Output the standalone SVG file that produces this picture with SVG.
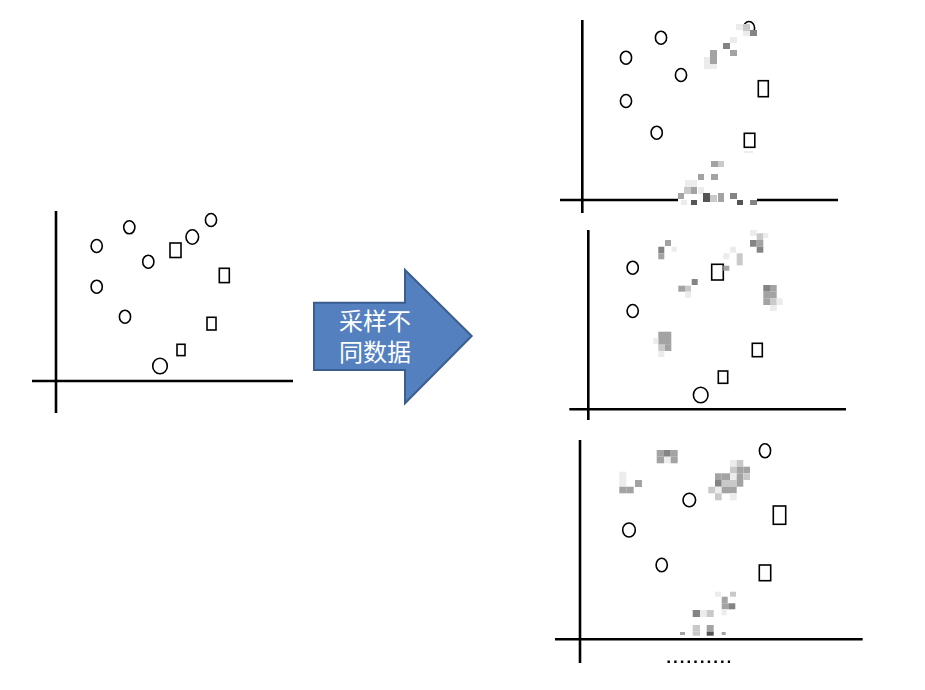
<svg xmlns="http://www.w3.org/2000/svg" width="925" height="690" viewBox="0 0 925 690">
<style>
.ax{stroke:#000;stroke-width:2.6;fill:none}
.c{fill:none;stroke:#000;stroke-width:1.6}
.s{fill:none;stroke:#000;stroke-width:1.6}
.m1{fill:#ececec}.m2{fill:#c9c9c9}.m3{fill:#a3a3a3}.m4{fill:#848484}.m5{fill:#555}
.lbl{font-family:"Liberation Sans","Noto Sans CJK SC",sans-serif;font-size:24px;fill:#fff;text-anchor:middle}
</style>
<rect width="925" height="690" fill="#fff"/>

<g id="plot-original">
<line class="ax" x1="56" y1="211" x2="56" y2="413"/>
<line class="ax" x1="32" y1="381" x2="293" y2="381"/>
<ellipse class="c" cx="129.3" cy="227.3" rx="5.6" ry="6.5"/>
<ellipse class="c" cx="96.7" cy="246" rx="5.6" ry="6.5"/>
<ellipse class="c" cx="148.3" cy="261.7" rx="5.6" ry="6.5"/>
<ellipse class="c" cx="96.7" cy="286.7" rx="5.6" ry="6.5"/>
<ellipse class="c" cx="125" cy="316.7" rx="5.6" ry="6.5"/>
<ellipse class="c" cx="192.3" cy="237" rx="6.3" ry="7.2"/>
<ellipse class="c" cx="211" cy="220" rx="5.6" ry="6.5"/>
<ellipse class="c" cx="160" cy="366" rx="7.3" ry="7.8"/>
<rect class="s" x="170" y="243" width="11" height="14.5"/>
<rect class="s" x="219.3" y="268.3" width="10" height="14.3"/>
<rect class="s" x="207" y="317.3" width="9" height="12.7"/>
<rect class="s" x="177" y="344.3" width="8" height="11.3"/>
</g>

<g id="arrow">
<path d="M314,302.7 H405 V270 L471.7,336 L405,403.3 V370 H314 Z" fill="#5480c0" stroke="#3a5f8f" stroke-width="2"/>
<text class="lbl" x="375" y="330">采样不</text>
<text class="lbl" x="375" y="361">同数据</text>
</g>

<g id="plot-sample-1">
<line class="ax" x1="582.3" y1="20" x2="582.3" y2="213"/>
<line class="ax" x1="560" y1="200" x2="678" y2="200"/>
<line class="ax" x1="757" y1="200" x2="838" y2="200"/>
<ellipse class="c" cx="661" cy="37.7" rx="5.6" ry="6.5"/>
<ellipse class="c" cx="626" cy="57.7" rx="5.6" ry="6.5"/>
<ellipse class="c" cx="681" cy="75" rx="5.6" ry="6.5"/>
<ellipse class="c" cx="626" cy="101" rx="5.6" ry="6.5"/>
<ellipse class="c" cx="656.7" cy="132.7" rx="5.6" ry="6.5"/>
<ellipse class="c" cx="749" cy="28" rx="5.6" ry="6.5"/>
<rect class="s" x="758.3" y="80.7" width="10" height="16"/>
<rect class="s" x="744.3" y="133.3" width="10.5" height="14"/>
<g id="mosaic-1">
<rect class="m1" x="736" y="24" width="7" height="6"/><rect class="m2" x="743" y="24" width="7" height="7"/>
<rect class="m1" x="743" y="31" width="7" height="5"/><rect class="m4" x="750" y="30" width="7" height="6"/>
<rect class="m1" x="730" y="37" width="7" height="6"/><rect class="m4" x="723" y="43" width="7" height="6"/>
<rect class="m3" x="730" y="50" width="7" height="6"/>
<rect class="m3" x="710" y="50" width="7" height="7"/><rect class="m1" x="704" y="57" width="6" height="7"/>
<rect class="m3" x="710" y="57" width="7" height="7"/><rect class="m1" x="704" y="64" width="13" height="5"/>
<rect class="m1" x="744" y="151" width="9" height="2"/>
<rect class="m3" x="711" y="161" width="7" height="6"/><rect class="m2" x="718" y="161" width="6" height="6"/>
<rect class="m3" x="698" y="174" width="6" height="6"/><rect class="m3" x="711" y="174" width="7" height="6"/>
<rect class="m1" x="685" y="180" width="7" height="7"/><rect class="m1" x="691" y="180" width="6" height="7"/>
<rect class="m2" x="684" y="187" width="7" height="7"/><rect class="m3" x="691" y="187" width="6" height="7"/>
<rect class="m1" x="698" y="187" width="6" height="7"/>
<rect class="m3" x="678" y="193" width="6" height="6"/><rect class="m5" x="703" y="193" width="7" height="9"/>
<rect class="m2" x="710" y="195" width="7" height="7"/><rect class="m3" x="718" y="193" width="6" height="9"/>
<rect class="m4" x="730" y="193" width="7" height="6"/><rect class="m5" x="737" y="200" width="6" height="5"/>
<rect class="m4" x="750" y="200" width="7" height="5"/><rect class="m5" x="691" y="200" width="6" height="5"/>
<rect class="m1" x="681" y="200" width="6" height="5"/>
</g>
</g>

<g id="plot-sample-2">
<line class="ax" x1="588.3" y1="230" x2="588.3" y2="420"/>
<line class="ax" x1="569.3" y1="409.3" x2="846" y2="409.3"/>
<ellipse class="c" cx="632.7" cy="267.7" rx="5.6" ry="6.5"/>
<ellipse class="c" cx="632.7" cy="311" rx="5.6" ry="6.5"/>
<ellipse class="c" cx="700.7" cy="395" rx="7.3" ry="7.8"/>
<rect class="s" x="711.7" y="264.3" width="11.6" height="15.7"/>
<rect class="s" x="752.3" y="343.3" width="10" height="13.4"/>
<rect class="s" x="718.3" y="371" width="9.4" height="12.3"/>
<g id="mosaic-2">
<rect class="m3" x="665" y="240" width="6" height="6"/><rect class="m4" x="658.3" y="246.7" width="6" height="6.6"/>
<rect class="m3" x="658.3" y="253.3" width="6" height="6"/><rect class="m1" x="671.7" y="246.7" width="5" height="5"/>
<rect class="m4" x="691.7" y="279" width="6" height="6"/><rect class="m3" x="678.3" y="285.7" width="6.7" height="6"/>
<rect class="m2" x="685" y="285.7" width="6" height="6"/><rect class="m1" x="685" y="291.7" width="6" height="6"/>
<rect class="m1" x="723.3" y="253.3" width="6" height="6"/><rect class="m1" x="730" y="246.7" width="6" height="6"/>
<rect class="m2" x="736.7" y="253.3" width="6" height="12"/><rect class="m3" x="723.3" y="265.7" width="6" height="5"/>
<rect class="m1" x="750" y="230" width="6.7" height="6"/><rect class="m2" x="756.7" y="233.3" width="6.6" height="6.7"/>
<rect class="m4" x="750" y="240" width="6.7" height="6.7"/><rect class="m3" x="756.7" y="240" width="6.6" height="6.7"/>
<rect class="m4" x="756.7" y="246.7" width="6.6" height="6"/><rect class="m1" x="763.3" y="233" width="5" height="5"/>
<rect class="m4" x="763.3" y="285" width="6.7" height="6.7"/><rect class="m3" x="770" y="285" width="6.7" height="6.7"/>
<rect class="m3" x="763.3" y="291.7" width="6.7" height="6.6"/><rect class="m3" x="770" y="291.7" width="6.7" height="6.6"/>
<rect class="m3" x="763.3" y="298.3" width="6.7" height="6.7"/><rect class="m2" x="770" y="298.3" width="6.7" height="6.7"/>
<rect class="m1" x="776.7" y="298.3" width="6" height="6.7"/><rect class="m1" x="770" y="305" width="6.7" height="6"/>
<rect class="m3" x="658.3" y="331.7" width="13" height="13"/>
<rect class="m2" x="658.3" y="344.3" width="6.7" height="6.7"/><rect class="m3" x="665" y="344.3" width="6.3" height="6.7"/>
<rect class="m1" x="658.3" y="351" width="6" height="6"/><rect class="m1" x="653.3" y="338" width="5" height="6"/>
</g>
</g>

<g id="plot-sample-3">
<line class="ax" x1="580" y1="440" x2="580" y2="663"/>
<line class="ax" x1="555" y1="639.3" x2="862.7" y2="639.3"/>
<ellipse class="c" cx="765" cy="450.7" rx="5.6" ry="7"/>
<ellipse class="c" cx="689.3" cy="500" rx="6.3" ry="6.8"/>
<ellipse class="c" cx="629" cy="530" rx="6.3" ry="7"/>
<ellipse class="c" cx="661.7" cy="565" rx="5.6" ry="6.8"/>
<rect class="s" x="773.3" y="506" width="12.4" height="18.3"/>
<rect class="s" x="759.3" y="565" width="11.4" height="15.7"/>
<line x1="667.5" y1="661.7" x2="730" y2="661.7" stroke="#000" stroke-width="2.4" stroke-dasharray="2.4 4.3"/>
<g id="mosaic-3">
<rect class="m3" x="656.7" y="450" width="7.3" height="6.7"/><rect class="m4" x="664" y="450" width="6.7" height="6.7"/>
<rect class="m3" x="670.7" y="450" width="7" height="6.7"/><rect class="m3" x="656.7" y="456.7" width="7.3" height="6.6"/>
<rect class="m1" x="664" y="456.7" width="6.7" height="6.6"/><rect class="m3" x="670.7" y="456.7" width="7" height="6.6"/>
<rect class="m1" x="619.3" y="471.7" width="7" height="8.3"/><rect class="m1" x="619.3" y="480" width="7" height="6.7"/>
<rect class="m3" x="619.3" y="486.7" width="7.4" height="6.6"/><rect class="m3" x="626.7" y="486.7" width="7" height="6.6"/>
<rect class="m3" x="635" y="480" width="7" height="7"/>
<rect class="m1" x="730" y="460" width="6.7" height="6.7"/><rect class="m2" x="736.7" y="460" width="6.6" height="6.7"/>
<rect class="m2" x="730" y="466.7" width="6.7" height="6.6"/><rect class="m3" x="736.7" y="466.7" width="6.6" height="6.6"/><rect class="m3" x="743.3" y="466.7" width="6.7" height="6.6"/>
<rect class="m3" x="715" y="473.3" width="6.7" height="6.7"/><rect class="m3" x="721.7" y="473.3" width="8.3" height="6.7"/>
<rect class="m1" x="730" y="473.3" width="6.7" height="6.7"/><rect class="m3" x="736.7" y="473.3" width="6.6" height="6.7"/><rect class="m2" x="743.3" y="473.3" width="6.7" height="6.7"/>
<rect class="m4" x="715" y="480" width="6.7" height="6.7"/><rect class="m2" x="721.7" y="480" width="8.3" height="6.7"/>
<rect class="m2" x="730" y="480" width="6.7" height="6.7"/><rect class="m3" x="736.7" y="480" width="6.6" height="6.7"/>
<rect class="m2" x="708.3" y="486.7" width="6.7" height="6.6"/><rect class="m1" x="715" y="486.7" width="6.7" height="6.6"/>
<rect class="m3" x="721.7" y="486.7" width="8.3" height="6.6"/><rect class="m3" x="730" y="486.7" width="6.7" height="6.6"/>
<rect class="m2" x="715" y="493.3" width="6.7" height="7"/><rect class="m1" x="730" y="493.3" width="6.7" height="7"/>
<rect class="m1" x="715" y="591.7" width="6" height="5"/><rect class="m2" x="730" y="591.7" width="6" height="5"/>
<rect class="m3" x="721.7" y="596.7" width="6" height="6.6"/><rect class="m4" x="728.3" y="603.3" width="7" height="6"/>
<rect class="m3" x="721.7" y="603.3" width="6.6" height="6"/><rect class="m1" x="721.7" y="609.3" width="5" height="6"/>
<rect class="m4" x="692.7" y="610" width="7.3" height="7"/><rect class="m1" x="700" y="610" width="6.7" height="7"/>
<rect class="m2" x="706.7" y="610" width="7" height="7"/>
<rect class="m2" x="692.7" y="625" width="7.3" height="6.7"/><rect class="m3" x="706.7" y="625" width="7" height="6.7"/>
<rect class="m5" x="706.7" y="631.7" width="7" height="4"/><rect class="m2" x="692.7" y="631.7" width="7.3" height="4"/>
<rect class="m3" x="680" y="632" width="5" height="3"/><rect class="m3" x="721.7" y="632" width="4" height="3"/>
</g>
</g>
</svg>
